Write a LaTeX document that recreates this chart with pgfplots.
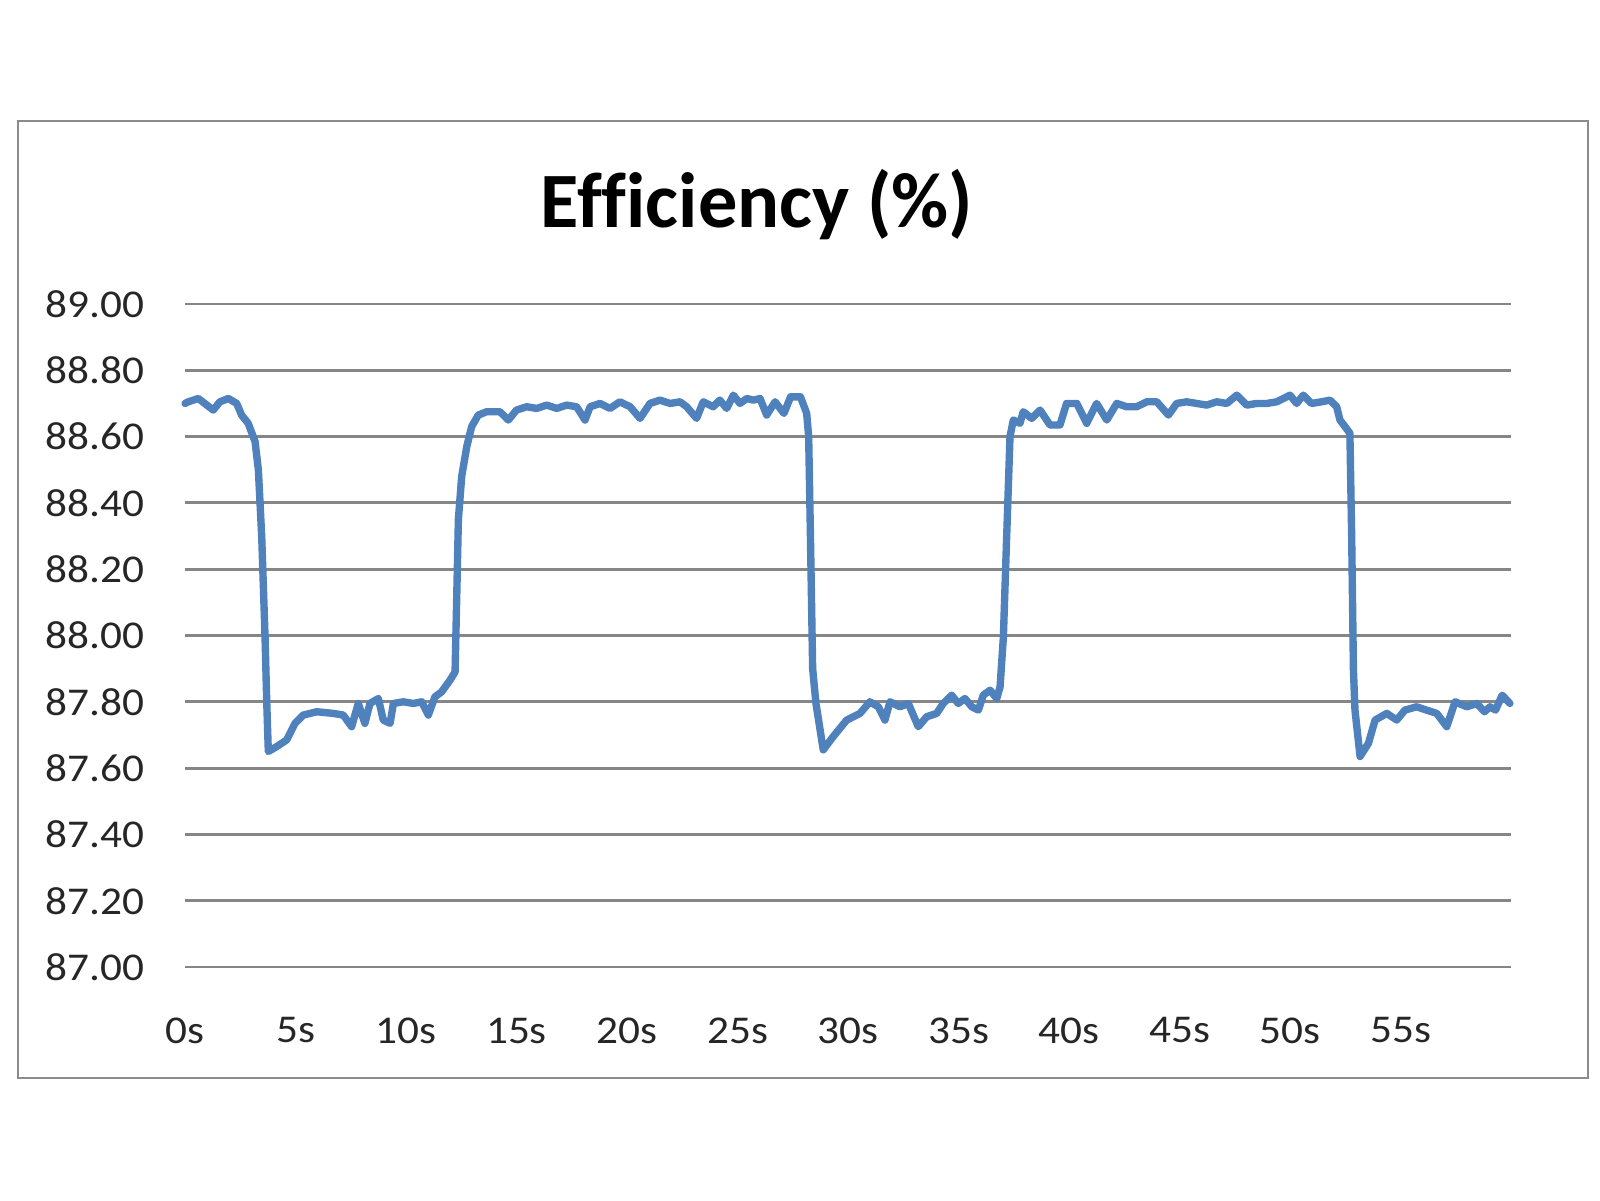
\documentclass[border=0pt]{standalone}
\usepackage{fontspec}
\usepackage{pgfplots}
\pgfplotsset{compat=1.18}
\usepackage{pgfplotstable}
\newfontfamily\tickfont[FakeStretch=1.1]{Carlito}
\newfontfamily\titlefont[Ligatures=NoCommon]{Carlito}
\definecolor{exblue}{RGB}{79,129,189}
\definecolor{gridgray}{RGB}{134,134,134}
\definecolor{framegray}{RGB}{140,140,140}
\definecolor{labelcol}{RGB}{38,38,38}
\pgfplotstableread{
t v
0.0 88.70
0.15 88.705
0.6 88.715
1.28 88.68
1.58 88.705
1.96 88.715
2.34 88.70
2.56 88.665
2.86 88.64
3.17 88.585
3.32 88.50
3.47 88.30
3.62 88.00
3.70 87.795
3.77 87.65
4.15 87.665
4.6 87.685
4.98 87.735
5.35 87.76
5.96 87.77
6.71 87.765
7.16 87.76
7.54 87.725
7.84 87.795
8.14 87.735
8.37 87.795
8.75 87.81
8.97 87.745
9.28 87.735
9.43 87.795
9.88 87.80
10.33 87.795
10.71 87.80
11.01 87.76
11.31 87.815
11.61 87.83
11.99 87.865
12.22 87.89
12.29 88.10
12.37 88.35
12.52 88.48
12.75 88.57
12.97 88.63
13.27 88.665
13.65 88.675
14.25 88.675
14.63 88.65
15.0 88.68
15.46 88.69
15.91 88.685
16.37 88.695
16.82 88.685
17.27 88.695
17.72 88.69
18.1 88.65
18.33 88.69
18.78 88.70
19.23 88.685
19.68 88.705
20.14 88.69
20.59 88.655
21.04 88.70
21.49 88.71
21.95 88.70
22.4 88.705
22.7 88.69
23.15 88.655
23.45 88.705
23.9 88.69
24.2 88.71
24.51 88.685
24.81 88.725
25.11 88.70
25.42 88.715
25.72 88.71
26.02 88.715
26.32 88.665
26.7 88.705
27.1 88.67
27.4 88.72
27.85 88.72
28.13 88.67
28.22 88.60
28.3 88.30
28.4 87.90
28.55 87.795
28.88 87.655
29.33 87.695
29.94 87.745
30.54 87.765
30.99 87.80
31.37 87.785
31.67 87.745
31.9 87.80
32.35 87.785
32.73 87.795
33.18 87.725
33.56 87.755
34.01 87.765
34.31 87.795
34.69 87.82
34.99 87.795
35.29 87.81
35.6 87.785
35.9 87.775
36.12 87.82
36.43 87.835
36.73 87.81
36.88 87.845
37.03 87.995
37.18 88.30
37.33 88.60
37.48 88.65
37.78 88.64
37.93 88.675
38.31 88.655
38.69 88.68
39.14 88.635
39.59 88.635
39.89 88.70
40.35 88.70
40.8 88.64
41.25 88.70
41.71 88.65
42.16 88.70
42.61 88.69
43.06 88.69
43.52 88.705
43.97 88.705
44.5 88.665
44.87 88.70
45.33 88.705
45.78 88.70
46.23 88.695
46.68 88.705
47.14 88.70
47.59 88.725
48.04 88.695
48.49 88.70
48.95 88.70
49.4 88.705
50.0 88.725
50.3 88.70
50.6 88.725
50.98 88.70
51.43 88.705
51.81 88.71
52.11 88.69
52.26 88.65
52.49 88.63
52.71 88.61
52.79 88.30
52.87 87.895
52.94 87.775
53.17 87.635
53.55 87.675
53.85 87.745
54.38 87.765
54.83 87.745
55.2 87.775
55.73 87.785
56.18 87.775
56.64 87.765
57.09 87.725
57.47 87.80
58.0 87.785
58.45 87.795
58.8 87.77
59.05 87.785
59.3 87.775
59.6 87.82
59.95 87.795
}\efftable
\begin{document}
\begin{tikzpicture}
\path[use as bounding box] (0,0) rectangle (16cm,12cm);
\fill[white] (0,0) rectangle (16cm,12cm);
\draw[framegray, line width=0.8pt] (0.18cm,1.22cm) rectangle (15.88cm,10.79cm);
\begin{axis}[
  at={(1.85cm,2.33cm)}, anchor=south west,
  scale only axis, width=13.26cm, height=6.63cm,
  xmin=0, xmax=60, ymin=87, ymax=89,
  xtick={0,5,...,55},
  xticklabels={0s,5s,10s,15s,20s,25s,30s,35s,40s,45s,50s,55s},
  ytick={87,87.2,...,89.01},
  axis line style={draw=none},
  tick style={draw=none},
  ymajorgrids, grid style={gridgray, line width=0.8pt},
  ticklabel style={font=\tickfont\fontsize{11.2}{13}\selectfont, text=labelcol},
  yticklabel style={/pgf/number format/fixed, /pgf/number format/fixed zerofill, /pgf/number format/precision=2, /pgf/number format/assume math mode=true, anchor=east, inner sep=0pt, xshift=-0.4cm},
  xticklabel style={anchor=north, inner sep=0pt, yshift=-0.5cm},
  clip=false,
]
\addplot[exblue, line width=2.1pt, line join=round, line cap=round] table[x=t, y=v] {\efftable};
\end{axis}
\node[anchor=base, font=\titlefont\bfseries\fontsize{22.3}{27}\selectfont] at (7.57cm,9.72cm) {Efficiency (\%)};
\end{tikzpicture}
\end{document}
